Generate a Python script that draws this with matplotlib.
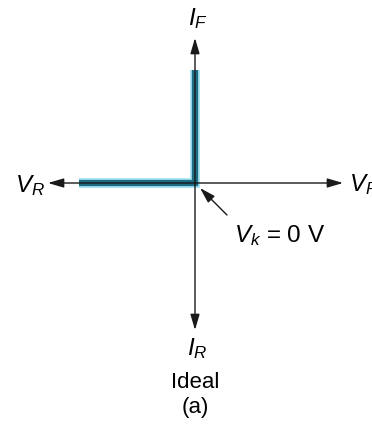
import numpy as np
import matplotlib.pyplot as plt

plt.rcParams['font.family'] = 'Liberation Sans'
plt.rcParams['mathtext.fontset'] = 'custom'
plt.rcParams['mathtext.rm'] = 'Liberation Sans'
plt.rcParams['mathtext.it'] = 'Liberation Sans:italic'

# ideal diode characteristic (arbitrary units, origin = knee)
v_curve = [-116, 0, 0]
i_curve = [0, 0, 113]

# axis extents
v_min, v_max = -147, 148
i_min, i_max = -147, 145

fig = plt.figure(figsize=(3.72, 4.28), dpi=100)
ax = fig.add_axes([0, 0, 1, 1])
ax.set_xlim(-195, 177)
ax.set_ylim(-245, 183)
ax.axis('off')

arrow = dict(arrowstyle='-|>,head_length=0.95,head_width=0.28', color='#1a1a1a',
             lw=1.0, shrinkA=0, shrinkB=0)
ax.annotate('', xy=(v_max, 0), xytext=(0, 0), arrowprops=arrow)
ax.annotate('', xy=(v_min, 0), xytext=(0, 0), arrowprops=arrow)
ax.annotate('', xy=(0, i_max), xytext=(0, 0), arrowprops=arrow)
ax.annotate('', xy=(0, i_min), xytext=(0, 0), arrowprops=arrow)

ax.plot(v_curve, i_curve, color='#8adcee', lw=7.0, solid_capstyle='butt',
        solid_joinstyle='miter', alpha=0.8)
ax.plot(v_curve, i_curve, color='#1d6c84', lw=4.5, solid_capstyle='butt',
        solid_joinstyle='miter')

ax.annotate('', xy=(5, -5), xytext=(32, -32),
            arrowprops=dict(arrowstyle='-|>,head_length=0.95,head_width=0.28',
                            color='#1a1a1a', lw=1.0, shrinkA=0, shrinkB=0))

fs = 17.5
ax.text(3, 164, r'$I_F$', ha='center', va='center', fontsize=fs)
ax.text(-165, -3, r'$V_R$', ha='center', va='center', fontsize=fs)
ax.text(154, -2, r'$V_F$', ha='left', va='center', fontsize=fs)
ax.text(85, -59, r'$V_k$ = 0 V', ha='center', va='baseline', fontsize=fs)
ax.text(2, -166, r'$I_R$', ha='center', va='center', fontsize=fs)
ax.text(0, -205, 'Ideal', ha='center', va='baseline', fontsize=16)
ax.text(0, -224, '(a)', ha='center', va='center', fontsize=16)

fig.savefig('out.png', dpi=100)
